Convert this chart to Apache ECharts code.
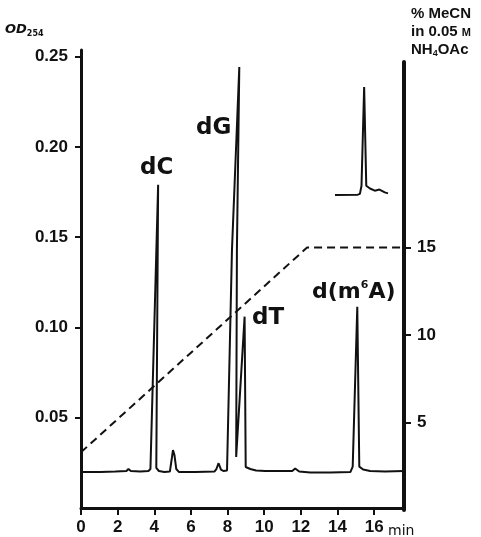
<!DOCTYPE html>
<html>
<head>
<meta charset="utf-8">
<script src="https://cdn.jsdelivr.net/npm/echarts@6/dist/echarts.min.js"></script>
<style>
html, body { margin: 0; padding: 0; background: #fff; }
#chart { width: 481px; height: 537px; }
</style>
</head>
<body>
<div id="chart"></div>
<script>
// chromatogram: time (min) and OD at 254 nm
var times = [0, 1.06, 1.88, 2.48, 2.59, 2.72, 3.24, 3.68, 3.79, 4.21, 4.11, 4.25, 4.55, 4.85, 4.96, 5.02, 5.10, 5.20, 5.34,
    6.24, 7.28, 7.39, 7.51, 7.64, 7.77, 7.97, 8.24, 8.64, 8.51, 8.47, 8.93, 8.99, 9.24, 9.56, 10.05, 10.87, 11.53, 11.69,
    11.91, 12.51, 13.60, 14.71, 14.83, 15.08, 15.19, 15.40, 15.78, 16.59, 17.63];
var od = [0.020, 0.020, 0.0202, 0.0205, 0.0216, 0.0205, 0.0202, 0.0205, 0.0216, 0.179, 0.0222, 0.0205, 0.020, 0.0202, 0.0277, 0.0321, 0.0294, 0.0216, 0.020,
    0.020, 0.0202, 0.0216, 0.0248, 0.0213, 0.0205, 0.0208, 0.143, 0.2443, 0.143, 0.0283, 0.106, 0.0227, 0.0216, 0.0208, 0.0205, 0.0205, 0.0205, 0.0219,
    0.0202, 0.0197, 0.0197, 0.020, 0.0229, 0.1115, 0.0229, 0.0213, 0.0205, 0.0202, 0.0205];
// MeCN gradient, % (right axis)
var gradTimes = [0, 12.34, 17.63];
var gradPct = [3.3, 15, 15];
// small inset trace (arbitrary units)
var insetX = [0, 0.43, 0.47, 0.50, 0.55, 0.59, 0.66, 0.75, 0.84, 0.94, 1];
var insetY = [0, 0.003, 0.01, 0.086, 1, 0.086, 0.06, 0.04, 0.05, 0.024, 0.015];
// tick values
var odTicks = [0.05, 0.10, 0.15, 0.20, 0.25];
var minTicks = [0, 2, 4, 6, 8, 10, 12, 14, 16];
var pctTicks = [5, 10, 15];

var chart = echarts.init(document.getElementById('chart'));

function pairs(xs, ys) {
    return xs.map(function (x, i) { return [x, ys[i]]; });
}

var tickFont = { color: '#111', fontFamily: 'Liberation Sans', fontWeight: 'bold', fontSize: 17 };
var peakFont = { fill: '#111', fontFamily: 'DejaVu Sans', fontWeight: 'bold', fontSize: 23 };

var option = {
    animation: false,
    backgroundColor: '#fff',
    grid: [
        { left: 81, right: 77, top: 50, bottom: 29 },
        { left: 81, right: 77, top: 62, bottom: 27 },
        { left: 335, top: 87, width: 53, height: 108 }
    ],
    xAxis: [
        {
            gridIndex: 0, type: 'value', min: 0, max: 17.63,
            axisLine: { onZero: false, lineStyle: { color: '#111', width: 3 } },
            axisTick: { customValues: minTicks, length: 7, lineStyle: { color: '#111', width: 2 } },
            axisLabel: Object.assign({ customValues: minTicks, margin: 11 }, tickFont),
            splitLine: { show: false }
        },
        { gridIndex: 1, type: 'value', min: 0, max: 17.63, show: false },
        { gridIndex: 2, type: 'value', min: 0, max: 1, show: false }
    ],
    yAxis: [
        {
            gridIndex: 0, type: 'value', min: 0, max: 0.2537,
            axisLine: { show: true, onZero: false, lineStyle: { color: '#111', width: 3 } },
            axisTick: { show: true, customValues: odTicks, length: 6, lineStyle: { color: '#111', width: 2 } },
            axisLabel: Object.assign({
                customValues: odTicks, margin: 13,
                formatter: function (v) { return v.toFixed(2); }
            }, tickFont),
            splitLine: { show: false }
        },
        {
            gridIndex: 1, type: 'value', position: 'right', min: 0, max: 25.6,
            axisLine: { show: true, onZero: false, lineStyle: { color: '#111', width: 4 } },
            axisTick: { show: true, customValues: pctTicks, length: 7, lineStyle: { color: '#111', width: 2 } },
            axisLabel: Object.assign({ customValues: pctTicks, margin: 13 }, tickFont),
            splitLine: { show: false }
        },
        { gridIndex: 2, type: 'value', min: 0, max: 1, show: false }
    ],
    series: [
        {
            name: 'OD254', type: 'line', xAxisIndex: 0, yAxisIndex: 0,
            data: pairs(times, od), showSymbol: false, clip: false,
            lineStyle: { color: '#111', width: 2 }
        },
        {
            name: 'MeCN', type: 'line', xAxisIndex: 1, yAxisIndex: 1,
            data: pairs(gradTimes, gradPct), showSymbol: false,
            lineStyle: { color: '#111', width: 2, type: [8, 5] }
        },
        {
            name: 'inset', type: 'line', xAxisIndex: 2, yAxisIndex: 2,
            data: pairs(insetX, insetY), showSymbol: false, clip: false,
            lineStyle: { color: '#111', width: 2 }
        }
    ],
    graphic: [
        {
            type: 'text', left: 5, top: 23,
            style: {
                text: '{a|OD}{s|254}',
                rich: {
                    a: { fontFamily: 'DejaVu Sans', fontWeight: 'bold', fontStyle: 'italic', fontSize: 13, fill: '#111', lineHeight: 16 },
                    s: { fontFamily: 'DejaVu Sans', fontWeight: 'bold', fontSize: 8, fill: '#111', verticalAlign: 'bottom', lineHeight: 16 }
                }
            }
        },
        {
            type: 'text', left: 411, top: 6,
            style: {
                text: '{b|% MeCN}\n{b|in 0.05 }{m|M}\n{b|NH}{u|4}{b|OAc}',
                rich: {
                    b: { fontFamily: 'Liberation Sans', fontWeight: 'bold', fontSize: 15, fill: '#111', lineHeight: 18 },
                    m: { fontFamily: 'Liberation Sans', fontWeight: 'bold', fontSize: 11, fill: '#111', lineHeight: 18, verticalAlign: 'bottom', padding: [0, 0, 2, 0] },
                    u: { fontFamily: 'Liberation Sans', fontWeight: 'bold', fontSize: 9, fill: '#111', lineHeight: 18, verticalAlign: 'bottom' }
                }
            }
        },
        { type: 'text', x: 140, y: 168, style: Object.assign({ text: 'dC', verticalAlign: 'middle' }, peakFont) },
        { type: 'text', x: 196, y: 128, style: Object.assign({ text: 'dG', verticalAlign: 'middle' }, peakFont) },
        { type: 'text', x: 252, y: 318, style: Object.assign({ text: 'dT', verticalAlign: 'middle' }, peakFont) },
        {
            type: 'text', x: 312, y: 292,
            style: {
                text: '{p|d(m}{q|6}{p|A)}', verticalAlign: 'middle',
                rich: {
                    p: { fontFamily: 'DejaVu Sans', fontWeight: 'bold', fontSize: 22, fill: '#111', lineHeight: 24 },
                    q: { fontFamily: 'DejaVu Sans', fontWeight: 'bold', fontSize: 11, fill: '#111', lineHeight: 24, verticalAlign: 'top' }
                }
            }
        },
        {
            type: 'text', x: 388, y: 531,
            style: { text: 'min', verticalAlign: 'middle', fontFamily: 'DejaVu Sans', fontSize: 14, fill: '#111' }
        }
    ]
};
chart.setOption(option);
</script>
</body>
</html>
